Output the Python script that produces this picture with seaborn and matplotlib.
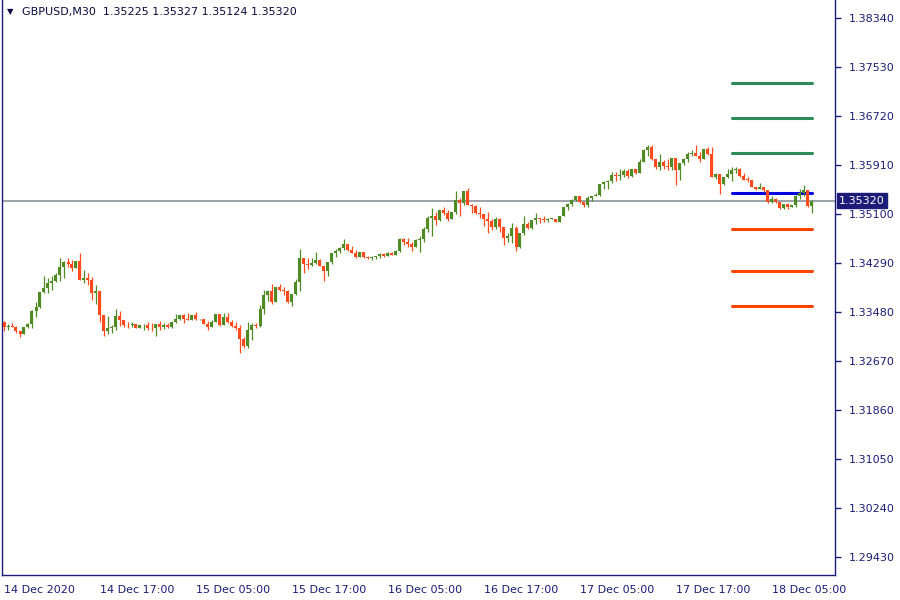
import numpy as np
import pandas as pd
import matplotlib
matplotlib.use("Agg")
import matplotlib.pyplot as plt
import seaborn as sns

# === GBPUSD M30 candles ===
symbol_header = "GBPUSD,M30  1.35225 1.35327 1.35124 1.35320"
first_open = 1.3332
closes = [
    1.3324, 1.3325, 1.3324, 1.3316, 1.3312, 1.3323, 1.3328, 1.3350, 1.3356, 1.3381,
    1.3388, 1.3396, 1.3400, 1.3409, 1.3423, 1.3430, 1.3427, 1.3420, 1.3432, 1.3401,
    1.3404, 1.3401, 1.3380, 1.3382, 1.3343, 1.3316, 1.3322, 1.3323, 1.3341, 1.3334,
    1.3327, 1.3326, 1.3328, 1.3322, 1.3326, 1.3327, 1.3322, 1.3321, 1.3328, 1.3323,
    1.3327, 1.3323, 1.3331, 1.3336, 1.3343, 1.3336, 1.3335, 1.3343, 1.3336, 1.3336,
    1.3328, 1.3323, 1.3331, 1.3345, 1.3327, 1.3339, 1.3331, 1.3325, 1.3321, 1.3303,
    1.3292, 1.3318, 1.3327, 1.3325, 1.3353, 1.3376, 1.3382, 1.3365, 1.3389, 1.3385,
    1.3383, 1.3364, 1.3378, 1.3397, 1.3437, 1.3427, 1.3426, 1.3429, 1.3434, 1.3424,
    1.3415, 1.3431, 1.3445, 1.3449, 1.3454, 1.3460, 1.3450, 1.3446, 1.3439, 1.3448,
    1.3439, 1.3438, 1.3439, 1.3440, 1.3444, 1.3441, 1.3446, 1.3443, 1.3449, 1.3468,
    1.3463, 1.3460, 1.3456, 1.3467, 1.3468, 1.3486, 1.3504, 1.3507, 1.3500, 1.3517,
    1.3512, 1.3502, 1.3514, 1.3533, 1.3529, 1.3548, 1.3525, 1.3524, 1.3512, 1.3510,
    1.3501, 1.3499, 1.3489, 1.3501, 1.3488, 1.3470, 1.3473, 1.3487, 1.3455, 1.3479,
    1.3494, 1.3487, 1.3500, 1.3504, 1.3502, 1.3500, 1.3502, 1.3502, 1.3497, 1.3507,
    1.3521, 1.3526, 1.3533, 1.3539, 1.3530, 1.3525, 1.3536, 1.3540, 1.3542, 1.3560,
    1.3563, 1.3564, 1.3574, 1.3573, 1.3575, 1.3581, 1.3573, 1.3584, 1.3578, 1.3596,
    1.3615, 1.3621, 1.3601, 1.3587, 1.3596, 1.3589, 1.3588, 1.3602, 1.3583, 1.3594,
    1.3601, 1.3609, 1.3611, 1.3606, 1.3601, 1.3617, 1.3609, 1.3572, 1.3576, 1.3560,
    1.3572, 1.3576, 1.3583, 1.3585, 1.3573, 1.3567, 1.3566, 1.3555, 1.3551, 1.3555,
    1.3549, 1.3530, 1.3535, 1.3530, 1.3520, 1.3526, 1.3521, 1.3525, 1.3539, 1.3545,
    1.3550, 1.35225, 1.35320,
]
highs = [
    1.3333, 1.3328, 1.3329, 1.3325, 1.3316, 1.3323, 1.3330, 1.3351, 1.3365, 1.3381,
    1.3408, 1.3405, 1.3408, 1.3412, 1.3437, 1.3433, 1.3437, 1.3434, 1.3432, 1.3446,
    1.3417, 1.3413, 1.3406, 1.3393, 1.3381, 1.3343, 1.3341, 1.3327, 1.3353, 1.3349,
    1.3334, 1.3331, 1.3332, 1.3328, 1.3327, 1.3328, 1.3331, 1.3329, 1.3328, 1.3333,
    1.3329, 1.3329, 1.3333, 1.3345, 1.3343, 1.3345, 1.3346, 1.3343, 1.3348, 1.3337,
    1.3337, 1.3333, 1.3335, 1.3345, 1.3345, 1.3347, 1.3347, 1.3335, 1.3332, 1.3327,
    1.3306, 1.3332, 1.3329, 1.3329, 1.3360, 1.3384, 1.3384, 1.3395, 1.3389, 1.3394,
    1.3389, 1.3384, 1.3378, 1.3403, 1.3452, 1.3437, 1.3437, 1.3438, 1.3447, 1.3436,
    1.3424, 1.3431, 1.3445, 1.3452, 1.3456, 1.3469, 1.3461, 1.3457, 1.3451, 1.3448,
    1.3448, 1.3440, 1.3441, 1.3441, 1.3446, 1.3446, 1.3448, 1.3447, 1.3450, 1.3470,
    1.3470, 1.3470, 1.3464, 1.3468, 1.3473, 1.3488, 1.3506, 1.3520, 1.3514, 1.3517,
    1.3522, 1.3517, 1.3514, 1.3548, 1.3536, 1.3548, 1.3553, 1.3527, 1.3525, 1.3522,
    1.3510, 1.3514, 1.3502, 1.3505, 1.3504, 1.3488, 1.3478, 1.3495, 1.3490, 1.3479,
    1.3507, 1.3497, 1.3500, 1.3511, 1.3504, 1.3506, 1.3504, 1.3503, 1.3502, 1.3507,
    1.3521, 1.3528, 1.3535, 1.3540, 1.3539, 1.3530, 1.3540, 1.3540, 1.3544, 1.3560,
    1.3565, 1.3566, 1.3579, 1.3579, 1.3584, 1.3585, 1.3585, 1.3585, 1.3585, 1.3601,
    1.3617, 1.3624, 1.3624, 1.3601, 1.3609, 1.3599, 1.3601, 1.3603, 1.3603, 1.3595,
    1.3603, 1.3612, 1.3615, 1.3624, 1.3612, 1.3617, 1.3620, 1.3620, 1.3578, 1.3576,
    1.3572, 1.3585, 1.3587, 1.3587, 1.3586, 1.3577, 1.3572, 1.3566, 1.3555, 1.3561,
    1.3555, 1.3549, 1.3539, 1.3537, 1.3530, 1.3526, 1.3529, 1.3525, 1.3542, 1.3551,
    1.3558, 1.3550, 1.35327,
]
lows = [
    1.3317, 1.3319, 1.3323, 1.3314, 1.3307, 1.3311, 1.3322, 1.3322, 1.3340, 1.3355,
    1.3380, 1.3380, 1.3384, 1.3398, 1.3399, 1.3405, 1.3423, 1.3416, 1.3420, 1.3401,
    1.3396, 1.3393, 1.3368, 1.3361, 1.3332, 1.3309, 1.3312, 1.3314, 1.3318, 1.3325,
    1.3323, 1.3322, 1.3324, 1.3322, 1.3321, 1.3319, 1.3318, 1.3317, 1.3309, 1.3319,
    1.3320, 1.3322, 1.3322, 1.3330, 1.3335, 1.3330, 1.3335, 1.3335, 1.3335, 1.3335,
    1.3328, 1.3319, 1.3323, 1.3331, 1.3325, 1.3327, 1.3329, 1.3323, 1.3318, 1.3280,
    1.3289, 1.3289, 1.3302, 1.3321, 1.3324, 1.3345, 1.3367, 1.3362, 1.3365, 1.3382,
    1.3376, 1.3363, 1.3358, 1.3376, 1.3382, 1.3412, 1.3419, 1.3424, 1.3427, 1.3424,
    1.3400, 1.3408, 1.3428, 1.3439, 1.3445, 1.3450, 1.3449, 1.3445, 1.3438, 1.3439,
    1.3438, 1.3435, 1.3434, 1.3435, 1.3438, 1.3439, 1.3441, 1.3442, 1.3443, 1.3448,
    1.3459, 1.3456, 1.3449, 1.3456, 1.3448, 1.3464, 1.3481, 1.3473, 1.3492, 1.3498,
    1.3508, 1.3499, 1.3501, 1.3510, 1.3507, 1.3525, 1.3525, 1.3511, 1.3510, 1.3503,
    1.3490, 1.3479, 1.3483, 1.3486, 1.3481, 1.3459, 1.3464, 1.3462, 1.3449, 1.3453,
    1.3475, 1.3485, 1.3486, 1.3493, 1.3495, 1.3497, 1.3496, 1.3501, 1.3496, 1.3496,
    1.3506, 1.3517, 1.3524, 1.3531, 1.3529, 1.3521, 1.3522, 1.3532, 1.3539, 1.3539,
    1.3552, 1.3552, 1.3561, 1.3565, 1.3567, 1.3572, 1.3569, 1.3572, 1.3576, 1.3577,
    1.3596, 1.3606, 1.3599, 1.3584, 1.3582, 1.3585, 1.3583, 1.3582, 1.3558, 1.3566,
    1.3591, 1.3596, 1.3606, 1.3606, 1.3596, 1.3601, 1.3607, 1.3572, 1.3568, 1.3543,
    1.3558, 1.3569, 1.3565, 1.3578, 1.3572, 1.3566, 1.3563, 1.3554, 1.3550, 1.3551,
    1.3547, 1.3529, 1.3529, 1.3528, 1.3518, 1.3519, 1.3519, 1.3521, 1.3522, 1.3535,
    1.3540, 1.3522, 1.35124,
]
current_price = 1.35320

# horizontal levels drawn on the right
level_names = ["tp3", "tp2", "tp1", "entry", "sl1", "sl2", "sl3"]
level_prices = [1.37265, 1.36687, 1.36108, 1.35447, 1.34852, 1.34158, 1.33579]
level_colors = ["#2e8b57", "#2e8b57", "#2e8b57", "#0000e0", "#ff4500", "#ff4500", "#ff4500"]

# axis labels
y_ticks = [1.38340, 1.37530, 1.36720, 1.35910, 1.35100, 1.34290,
           1.33480, 1.32670, 1.31860, 1.31050, 1.30240, 1.29430]
x_tick_labels = ["14 Dec 2020", "14 Dec 17:00", "15 Dec 05:00", "15 Dec 17:00",
                 "16 Dec 05:00", "16 Dec 17:00", "17 Dec 05:00", "17 Dec 17:00",
                 "18 Dec 05:00"]

navy = "#1c1c78"
up_col = "#4f8a23"
down_col = "#ff4a1c"

df = pd.DataFrame({"close": closes, "high": highs, "low": lows})
df["open"] = [first_open] + closes[:-1]
df["idx"] = np.arange(len(df))
df["high"] = df[["high", "open", "close"]].max(axis=1)
df["low"] = df[["low", "open", "close"]].min(axis=1)
df["up"] = df["close"] >= df["open"]
cols = np.where(df["up"], up_col, down_col)

sns.set_style("white")
plt.rcParams['font.family'] = ['DejaVu Sans']

fig = plt.figure(figsize=(9, 6), dpi=100)
ax = fig.add_axes([2 / 900, 25 / 600, 833 / 900, 575 / 600])

# current price line
ax.axhline(current_price, color="#8a929c", linewidth=1.2, zorder=1)

# levels (behind the candles)
lv = pd.DataFrame({
    "level": np.repeat(level_names, 2),
    "x": [182, 202] * len(level_names),
    "price": np.repeat(level_prices, 2),
})
sns.lineplot(data=lv, x="x", y="price", hue="level", palette=dict(zip(level_names, level_colors)),
             linewidth=2.2, legend=False, estimator=None, ax=ax, zorder=1.5)

# candles
ax.vlines(df["idx"], df["low"], df["high"], colors=cols, linewidth=0.9, zorder=2)
body = np.maximum((df["close"] - df["open"]).abs(), 0.00012)
ax.bar(df["idx"], body, bottom=df[["open", "close"]].min(axis=1), width=0.75,
       color=cols, linewidth=0, zorder=3)

ax.set_xlim(-0.5, 207.75)
ax.set_ylim(1.29132, 1.38638)
ax.set_xlabel("")
ax.set_ylabel("")

ax.yaxis.tick_right()
ax.set_yticks(y_ticks)
ax.set_yticklabels(["%.5f" % v for v in y_ticks])
ax.set_xticks(np.arange(0, 24 * len(x_tick_labels), 24))
ax.set_xticklabels(x_tick_labels)
for lab in ax.get_xticklabels():
    lab.set_horizontalalignment("left")
ax.tick_params(axis="both", direction="out", length=4, width=1, color=navy,
               labelcolor=navy, labelsize=8, pad=3)
ax.tick_params(axis="y", pad=6)

for s in ax.spines.values():
    s.set_color(navy)
    s.set_linewidth(1)
    s.set_visible(True)
ax.spines["top"].set_visible(False)

# price tag on the axis
ax.text(1.0045, current_price, "%.5f" % current_price, transform=ax.get_yaxis_transform(),
        color="white", fontsize=8, va="center", ha="left",
        bbox=dict(boxstyle="square,pad=0.2", fc=navy, ec=navy), zorder=10, clip_on=False)

# header
fig.text(7 / 900, 1 - 12 / 600, "\u25bc", fontsize=6, color="#0a0a40", va="center")
fig.text(22 / 900, 1 - 12 / 600, symbol_header, fontsize=8, color="#0a0a40", va="center")

fig.savefig("out.png", dpi=100)
plt.close(fig)
